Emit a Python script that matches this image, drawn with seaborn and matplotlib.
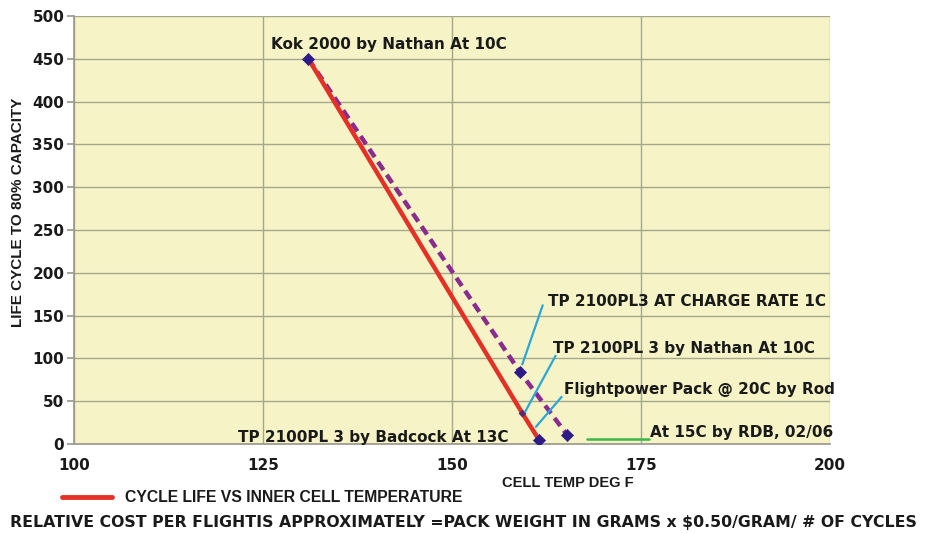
import matplotlib
matplotlib.use("Agg")
import matplotlib.pyplot as plt
import seaborn as sns
import pandas as pd

# data
red_x = [131, 159.3, 161.5]
red_y = [450, 36, 5]
dash_x = [131, 159, 165.2]
dash_y = [450, 84, 11]

labels = ["Kok 2000 by Nathan At 10C",
          "TP 2100PL3 AT CHARGE RATE 1C",
          "TP 2100PL 3 by Nathan At 10C",
          "Flightpower Pack @ 20C by Rod",
          "At 15C by RDB, 02/06",
          "TP 2100PL 3 by Badcock At 13C"]
label_x = [126, 162.7, 163.4, 164.8, 176.2, 121.7]
label_y = [467, 166, 112, 64, 13, 8]

# leader lines (from point to label)
leader_x0 = [159.3, 159.7, 161.1]
leader_y0 = [93, 38, 20]
leader_x1 = [162.0, 163.7, 164.5]
leader_y1 = [162, 103, 55]
green_x = [167.8, 176.0]
green_y = [6, 6]

xticks = [100, 125, 150, 175, 200]
yticks = list(range(0, 501, 50))

sns.set_theme(style="white")
plt.rcParams['font.family'] = ["DejaVu Sans"]
narrow = ["Liberation Sans", "DejaVu Sans"]

fig = plt.figure(figsize=(9.26, 5.33), dpi=100)
ax = fig.add_axes([0.0799, 0.167, 0.8164, 0.803])
ax.set_facecolor("#f6f4c6")

df_red = pd.DataFrame({"x": red_x, "y": red_y})
df_dash = pd.DataFrame({"x": dash_x, "y": dash_y})

sns.lineplot(data=df_dash, x="x", y="y", ax=ax, color="#8a2b8e", lw=3.2,
             linestyle=(0, (2.2, 1.3)), sort=False, zorder=3)
sns.lineplot(data=df_red, x="x", y="y", ax=ax, color="#e53027", lw=3.2,
             sort=False, zorder=4)
sns.scatterplot(x=[dash_x[0], dash_x[1], dash_x[2], red_x[2]],
                y=[dash_y[0], dash_y[1], dash_y[2], red_y[2]],
                ax=ax, marker="D", s=38, color="#2d1b88", edgecolor="#2d1b88", zorder=5)
sns.scatterplot(x=[red_x[1]], y=[red_y[1]], ax=ax, marker="D", s=14,
                color="#5a2a6a", edgecolor="#5a2a6a", zorder=5)

for x0, y0, x1, y1 in zip(leader_x0, leader_y0, leader_x1, leader_y1):
    ax.plot([x0, x1], [y0, y1], color="#2aa7d8", lw=1.6, zorder=6)
ax.plot(green_x, green_y, color="#3cb54a", lw=1.8, zorder=6)

for t, x, y in zip(labels, label_x, label_y):
    ax.text(x, y, t, fontsize=11, fontweight="bold", color="#1a1a1a",
            va="center", ha="left", zorder=7)

ax.set_xlim(100, 200)
ax.set_ylim(0, 500)
ax.set_xticks(xticks)
ax.set_yticks(yticks)
ax.grid(True, color="#a6a68a", lw=1.0)
ax.set_axisbelow(True)
for s in ["top", "right"]:
    ax.spines[s].set_visible(False)
ax.spines["left"].set_color("#9a9a90")
ax.spines["bottom"].set_color("#9a9a90")
ax.tick_params(axis="y", length=5, color="#9a9a90", labelsize=11, pad=2, left=True)
ax.tick_params(axis="x", length=0, labelsize=11, pad=10, bottom=False)
for lab in ax.get_xticklabels() + ax.get_yticklabels():
    lab.set_fontweight("bold")
    lab.set_color("#1a1a1a")

ax.set_xlabel("")
ax.set_ylabel("")
fig.text(568/926, 1-483/533, "CELL TEMP DEG F", fontsize=10.5, fontweight="bold",
         family=narrow, va="center", ha="center", color="#1a1a1a")
fig.text(18/926, 1-212/533, "LIFE CYCLE TO 80% CAPACITY", fontsize=11,
         fontweight="bold", family=narrow, rotation=90, va="center", ha="center",
         color="#1a1a1a")

# legend and footnote
fig.lines.append(plt.Line2D([62/926, 112/926], [1-497/533, 1-497/533],
                            transform=fig.transFigure, color="#e53027", lw=3.5))
fig.text(125/926, 1-497/533, "CYCLE LIFE VS INNER CELL TEMPERATURE", fontsize=11.3,
         fontweight="bold", family=narrow, va="center", ha="left", color="#1a1a1a")
fig.text(10/926, 1-522/533,
         "RELATIVE COST PER FLIGHTIS APPROXIMATELY =PACK WEIGHT IN GRAMS x $0.50/GRAM/ # OF CYCLES",
         fontsize=11.3, fontweight="bold", va="center", ha="left", color="#1a1a1a")

fig.savefig("out.png", dpi=100, facecolor="white")
